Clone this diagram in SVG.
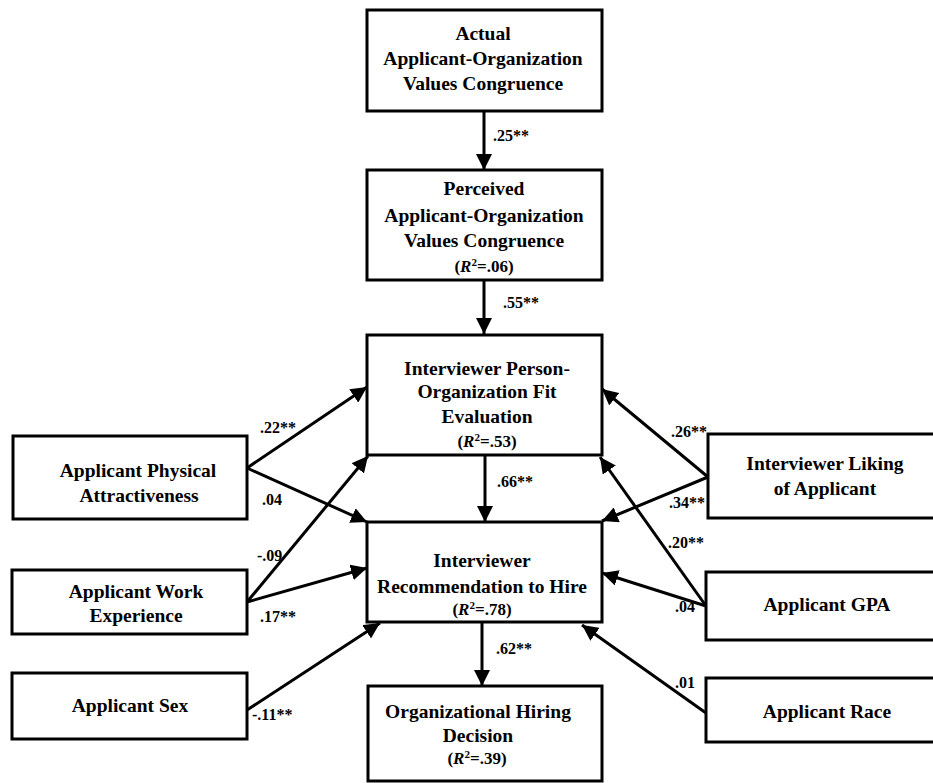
<svg xmlns="http://www.w3.org/2000/svg" width="933" height="783" viewBox="0 0 933 783">
<defs>
<marker id="ah" markerUnits="userSpaceOnUse" markerWidth="18" markerHeight="16" refX="16" refY="8" orient="auto">
<path d="M0,0 L16,8 L0,16 Z" fill="#000"/>
</marker>
<style>
.box{fill:#fff;stroke:#000;stroke-width:3}
.t{font-family:"Liberation Serif","Times New Roman",serif;font-weight:bold;font-size:19.5px;fill:#000;text-anchor:middle}
.r{font-family:"Liberation Serif","Times New Roman",serif;font-weight:bold;font-size:17px;fill:#000;text-anchor:middle}
.l{font-family:"Liberation Serif","Times New Roman",serif;font-weight:bold;font-size:16px;fill:#000}
.c{stroke:#000;stroke-width:3;fill:none;marker-end:url(#ah)}
</style>
</defs>
<rect width="933" height="783" fill="#fff"/>
<g id="connectors">
<line class="c" x1="484" y1="111" x2="484" y2="170"/>
<line class="c" x1="484" y1="280" x2="484" y2="334"/>
<line class="c" x1="485" y1="455" x2="485" y2="522"/>
<line class="c" x1="482" y1="622" x2="482" y2="686"/>
<line class="c" x1="247" y1="468" x2="367" y2="387"/>
<line class="c" x1="247" y1="468" x2="367" y2="522"/>
<line class="c" x1="247" y1="602" x2="368" y2="456"/>
<line class="c" x1="247" y1="602" x2="367" y2="568"/>
<line class="c" x1="247" y1="710" x2="380" y2="623"/>
<line class="c" x1="708" y1="477" x2="602" y2="389"/>
<line class="c" x1="708" y1="477" x2="602" y2="521"/>
<line class="c" x1="706" y1="606" x2="600" y2="457"/>
<line class="c" x1="706" y1="606" x2="602" y2="573"/>
<line class="c" x1="706" y1="713" x2="582" y2="625"/>
<text class="l" x="493" y="141">.25**</text>
<text class="l" x="503" y="308">.55**</text>
<text class="l" x="497" y="487">.66**</text>
<text class="l" x="496" y="654">.62**</text>
<text class="l" x="260" y="433">.22**</text>
<text class="l" x="262" y="505">.04</text>
<text class="l" x="257" y="561">-.09</text>
<text class="l" x="260" y="622">.17**</text>
<text class="l" x="252" y="720">-.11**</text>
<text class="l" x="671" y="437">.26**</text>
<text class="l" x="669" y="508">.34**</text>
<text class="l" x="668" y="548">.20**</text>
<text class="l" x="675" y="612">.04</text>
<text class="l" x="675" y="688">.01</text>
</g>
<g id="actual">
<rect class="box" x="367" y="10" width="235" height="101"/>
<text class="t" x="483" y="40">Actual</text>
<text class="t" x="483" y="65">Applicant-Organization</text>
<text class="t" x="483" y="90">Values Congruence</text>
</g>
<g id="perceived">
<rect class="box" x="367" y="170" width="235" height="110"/>
<text class="t" x="484" y="195">Perceived</text>
<text class="t" x="484" y="222">Applicant-Organization</text>
<text class="t" x="484" y="247">Values Congruence</text>
<text class="r" x="484" y="272">(<tspan font-style="italic">R</tspan><tspan dy="-6" font-size="11">2</tspan><tspan dy="6">=.06)</tspan></text>
</g>
<g id="pofit">
<rect class="box" x="367" y="335" width="235" height="120"/>
<text class="t" x="487" y="375">Interviewer Person-</text>
<text class="t" x="487" y="398">Organization Fit</text>
<text class="t" x="487" y="423">Evaluation</text>
<text class="r" x="487" y="447">(<tspan font-style="italic">R</tspan><tspan dy="-6" font-size="11">2</tspan><tspan dy="6">=.53)</tspan></text>
</g>
<g id="recommendation">
<rect class="box" x="367" y="522" width="235" height="100"/>
<text class="t" x="482" y="567">Interviewer</text>
<text class="t" x="482" y="593">Recommendation to Hire</text>
<text class="r" x="482" y="615">(<tspan font-style="italic">R</tspan><tspan dy="-6" font-size="11">2</tspan><tspan dy="6">=.78)</tspan></text>
</g>
<g id="hiring">
<rect class="box" x="368" y="686" width="234" height="95"/>
<text class="t" x="478" y="718">Organizational Hiring</text>
<text class="t" x="478" y="742">Decision</text>
<text class="r" x="477" y="764">(<tspan font-style="italic">R</tspan><tspan dy="-6" font-size="11">2</tspan><tspan dy="6">=.39)</tspan></text>
</g>
<g id="physical">
<rect class="box" x="13" y="436" width="234" height="83"/>
<text class="t" x="138" y="477">Applicant Physical</text>
<text class="t" x="139" y="502">Attractiveness</text>
</g>
<g id="work">
<rect class="box" x="12" y="570" width="235" height="64"/>
<text class="t" x="136" y="598">Applicant Work</text>
<text class="t" x="136" y="622">Experience</text>
</g>
<g id="sex">
<rect class="box" x="12" y="673" width="235" height="66"/>
<text class="t" x="130" y="712">Applicant Sex</text>
</g>
<g id="liking">
<rect class="box" x="708" y="434" width="240" height="84"/>
<text class="t" x="825" y="470">Interviewer Liking</text>
<text class="t" x="825" y="495">of Applicant</text>
</g>
<g id="gpa">
<rect class="box" x="706" y="572" width="240" height="68"/>
<text class="t" x="827" y="611">Applicant GPA</text>
</g>
<g id="race">
<rect class="box" x="706" y="678" width="240" height="64"/>
<text class="t" x="827" y="718">Applicant Race</text>
</g>
</svg>
